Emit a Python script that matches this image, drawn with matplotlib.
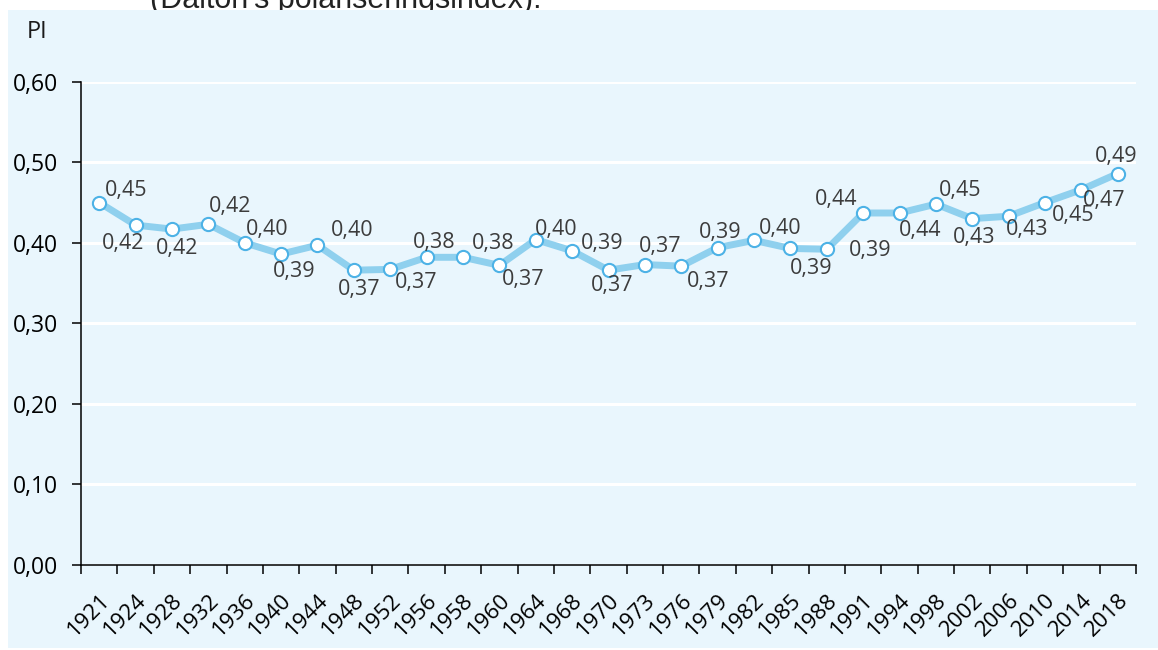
import numpy as np
import matplotlib.pyplot as plt
from matplotlib.patches import Rectangle

# data
years = ['1921', '1924', '1928', '1932', '1936', '1940', '1944', '1948', '1952', '1956',
         '1958', '1960', '1964', '1968', '1970', '1973', '1976', '1979', '1982', '1985',
         '1988', '1991', '1994', '1998', '2002', '2006', '2010', '2014', '2018']
pi_values = [0.450, 0.422, 0.417, 0.423, 0.400, 0.386, 0.397, 0.366, 0.367, 0.382,
             0.382, 0.372, 0.404, 0.390, 0.366, 0.373, 0.371, 0.394, 0.403, 0.393,
             0.392, 0.437, 0.437, 0.448, 0.430, 0.433, 0.450, 0.466, 0.486]
y_ticks = [0.0, 0.1, 0.2, 0.3, 0.4, 0.5, 0.6]

# label offsets in pixels (dx, dy up)
label_offsets = [(27, 12), (-13, -18), (5, -19), (22, 18), (22, 13), (13, -17), (35, 15),
                 (5, -19), (26, -13), (8, 15), (30, 14), (24, -14), (20, 10), (30, 7),
                 (4, -15), (15, 18), (27, -15), (3, 15), (26, 12), (21, -20), (43, -1),
                 (-27, 13), (21, -18), (24, 14), (2, -19), (18, -13), (28, -13), (23, -11),
                 (-2, 17)]

font = ['Open Sans', 'DejaVu Sans']
plt.rcParams['font.family'] = font

bg = '#E9F6FD'
line_col = '#8FD0EE'
edge_col = '#4DB2E6'

fig = plt.figure(figsize=(11.58, 6.5), dpi=100)
fig.patch.set_facecolor('white')

# light blue panel behind the chart
fig.patches.append(Rectangle((8 / 1158, 2 / 650), 1150 / 1158, 638 / 650,
                             transform=fig.transFigure, facecolor=bg,
                             edgecolor='none', zorder=-1))
fig.text(150 / 1158, 1 - 8 / 650, "(Dalton's polariseringsindex).", fontsize=22,
         family=['Liberation Sans', 'DejaVu Sans'], color='#222222',
         ha='left', va='baseline', zorder=-2)

ax = fig.add_axes([81 / 1158, 1 - 565 / 650, (1136 - 81) / 1158, (565 - 81.7) / 650])
ax.set_facecolor('none')

x = np.arange(len(years))
ax.plot(x, pi_values, color=line_col, lw=5, zorder=3, solid_joinstyle='round',
        marker='o', markersize=9.5, markerfacecolor='white', markeredgecolor=edge_col,
        markeredgewidth=1.5)

for i, v in enumerate(pi_values):
    dx, dy = label_offsets[i]
    ax.annotate('{:.2f}'.format(v).replace('.', ','), (x[i], v),
                xytext=(dx, dy), textcoords='offset pixels',
                ha='center', va='center', fontsize=15.5, color='#3C3C3C', zorder=4)

ax.set_xlim(-0.5, len(years) - 0.5)
ax.set_ylim(0, 0.6)
ax.set_yticks(y_ticks)
ax.set_yticklabels(['{:.2f}'.format(t).replace('.', ',') for t in y_ticks], fontsize=16.5)
ax.set_xticks(x)
ax.set_xticklabels(years, rotation=45, ha='right', rotation_mode='anchor', fontsize=16)
ax.set_xticks(np.arange(-0.5, len(years)), minor=True)
ax.tick_params(axis='x', which='major', length=0, pad=18)
ax.tick_params(axis='x', which='minor', length=6.5, width=1.1, direction='out')
ax.tick_params(axis='y', length=6.5, width=1.1, pad=10)

ax.grid(axis='y', color='white', lw=2.2, zorder=0)
ax.set_axisbelow(True)
for s in ['top', 'right']:
    ax.spines[s].set_visible(False)
for s in ['left', 'bottom']:
    ax.spines[s].set_linewidth(1.1)
    ax.spines[s].set_zorder(2)

fig.text(37.5 / 1158, 1 - 32 / 650, 'PI', fontsize=17, ha='center', va='center',
         color='#1A1A1A')

plt.savefig('out.png', dpi=100)
